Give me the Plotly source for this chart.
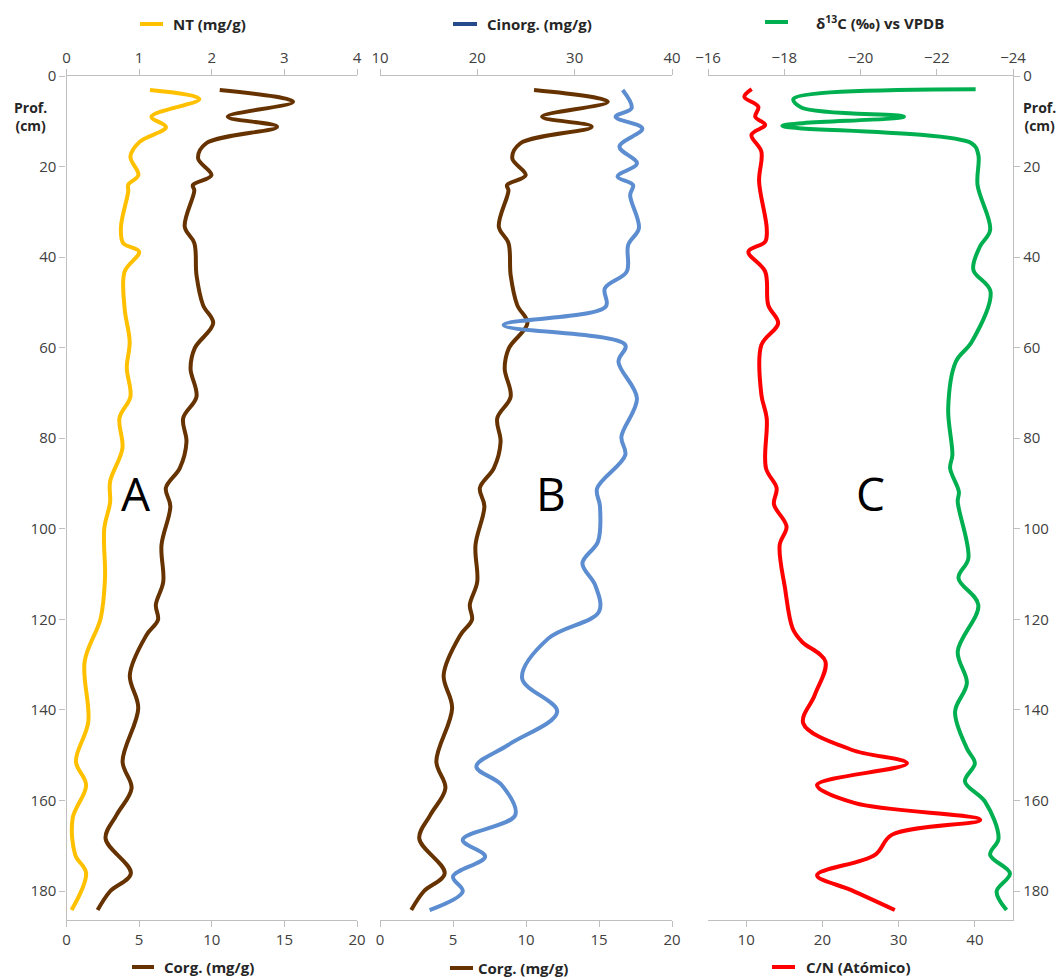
import plotly.graph_objects as go

# ---------------- data ----------------
depth_nt = [3.1, 5.1, 9.0, 11.3, 14.5, 17.8, 21.9, 24.0, 25.5, 33.3, 36.9, 38.8, 43.2, 51.3, 58.7,
            64.5, 70.8, 75.5, 82.2, 89.6, 94.2, 99.9, 111.0, 119.8, 129.3, 142.6, 151.4, 156.6,
            163.9, 172.0, 176.0, 184.2]
nt = [1.15, 1.83, 1.17, 1.37, 1.01, 0.88, 0.99, 0.85, 0.85, 0.75, 0.78, 1.00, 0.80, 0.80, 0.87,
      0.83, 0.88, 0.73, 0.77, 0.60, 0.60, 0.52, 0.53, 0.47, 0.25, 0.30, 0.13, 0.27,
      0.085, 0.12, 0.27, 0.07]

depth_corg = [3.1, 5.7, 9.0, 11.2, 14.9, 18.2, 21.9, 24.1, 25.3, 33.3, 36.9, 44.0, 50.6, 54.6,
              60.1, 64.6, 70.8, 75.6, 80.8, 86.6, 91.0, 95.0, 103.6, 111.7, 116.8, 120.1, 123.5,
              132.3, 139.6, 151.4, 157.3, 163.2, 168.4, 176.1, 180.1, 184.2]
corg = [10.55, 15.6, 11.1, 14.5, 9.6, 9.06, 9.98, 8.7, 8.8, 8.14, 8.8, 8.95, 9.4, 10.1,
        8.83, 8.54, 8.95, 8.03, 8.26, 7.8, 6.84, 7.15, 6.54, 6.66, 6.15, 6.3, 5.5,
        4.36, 4.94, 3.86, 4.48, 3.45, 2.69, 4.43, 2.99, 2.14]

depth_cinorg = [3.1, 7.1, 9.0, 11.6, 15.6, 19.3, 22.2, 24.1, 26.3, 33.6, 37.3, 43.2, 46.9, 50.9,
                55.0, 59.4, 63.1, 71.2, 79.7, 83.7, 91.1, 95.0, 102.8, 107.6, 112.4, 118.3,
                124.2, 133.0, 140.4, 147.7, 152.5, 156.6, 163.2, 168.7, 172.4, 176.8, 180.1, 184.2]
cinorg = [34.93, 35.85, 34.2, 36.95, 34.6, 36.4, 34.4, 36.0, 35.7, 36.6, 35.5, 35.35, 33.1, 33.2,
          22.7, 35.2, 34.5, 36.4, 34.8, 35.2, 32.3, 32.6, 32.4, 30.8, 32.1, 32.5,
          27.3, 24.6, 28.2, 23.2, 19.9, 22.5, 23.9, 18.5, 20.8, 17.5, 18.5, 15.1]

depth_cn = [2.9, 4.6, 6.8, 9.0, 10.8, 13.0, 16.7, 23.3, 33.6, 36.6, 38.8, 43.2, 50.6, 54.6, 59.4,
            70.4, 75.6, 86.6, 91.0, 94.6, 99.5, 103.6, 113.1, 122.0, 124.9, 129.3, 136.7, 143.0,
            148.8, 151.8, 156.6, 160.6, 164.3, 167.6, 172.0, 176.5, 179.8, 184.2]
cn = [10.73, 9.77, 11.6, 11.2, 12.5, 10.7, 12.0, 11.7, 12.7, 12.5, 10.3, 12.5, 12.9, 14.2, 12.0,
      12.0, 12.7, 12.6, 14.0, 13.65, 15.3, 14.4, 15.1, 16.1, 17.3, 20.4, 19.0, 17.5,
      23.8, 31.1, 19.3, 24.3, 40.7, 29.1, 26.9, 19.3, 23.8, 29.5]

depth_d13c = [2.9, 5.1, 7.0, 9.0, 11.0, 14.9, 17.4, 24.1, 34.0, 37.7, 42.8, 47.6, 58.7, 63.1,
              73.4, 83.7, 86.6, 91.8, 94.0, 106.5, 110.9, 116.8, 127.1, 134.1, 140.4, 148.5,
              151.8, 155.8, 160.3, 168.4, 172.0, 176.1, 180.1, 184.2]
d13c = [-23.02, -18.24, -18.46, -21.14, -17.95, -22.92, -23.09, -23.07, -23.4, -23.13, -22.96,
        -23.41, -22.92, -22.5, -22.3, -22.41, -22.35, -22.58, -22.55, -22.83, -22.57, -23.09,
        -22.55, -22.79, -22.48, -22.79, -23.0, -22.74, -23.27, -23.62, -23.4, -23.92, -23.57,
        -23.83]

panel_letters = ["A", "B", "C"]

# ---------------- styling ----------------
W, H = 1062, 978
YELLOW = "#FFC000"
BROWN = "#663300"
BLUE = "#5B8DD0"
BLUE_KEY = "#264B8C"
RED = "#FF0000"
GREEN = "#00B050"
AX = "#BFBFBF"
TXT = "#404040"
FONT = "Open Sans"
LW = 4


def fx(p):
    return p / W


def fy(p):
    return 1 - p / H


fig = go.Figure()


def line(xv, yv, color, xa, ya):
    fig.add_trace(go.Scatter(x=xv, y=yv, mode="lines", xaxis=xa, yaxis=ya,
                             line=dict(color=color, width=LW, shape="spline", smoothing=1.0),
                             showlegend=False, hoverinfo="skip"))


line(nt, depth_nt, YELLOW, "x2", "y")
line(corg, depth_corg, BROWN, "x", "y")
line(corg, depth_corg, BROWN, "x3", "y2")
line(cinorg, depth_cinorg, BLUE, "x4", "y2")
line(d13c, depth_d13c, GREEN, "x6", "y3")
line(cn, depth_cn, RED, "x5", "y3")

y_dom = [fy(920), fy(76)]
y_rng = [186.4, 0]
domA = [fx(66.5), fx(357)]
domB = [fx(380), fx(672)]
domC = [fx(708), fx(1013)]

common_x = dict(showgrid=False, zeroline=False, showline=True, linecolor=AX, linewidth=1.3,
                ticks="outside", tickcolor=AX, ticklen=6, tickwidth=1.3, automargin=False,
                tickfont=dict(family=FONT, size=15, color=TXT))
common_y = dict(showgrid=False, zeroline=False, range=y_rng, domain=y_dom, automargin=False)

fig.update_layout(
    width=W, height=H, margin=dict(l=0, r=0, t=0, b=0, pad=0, autoexpand=False),
    paper_bgcolor="white", plot_bgcolor="white",
    xaxis=dict(domain=domA, range=[0, 20], dtick=5, anchor="y", side="bottom", **common_x),
    xaxis2=dict(range=[0, 4], dtick=1, anchor="y", overlaying="x", side="top", **common_x),
    xaxis3=dict(domain=domB, range=[0, 20], dtick=5, anchor="y2", side="bottom", **common_x),
    xaxis4=dict(range=[10, 40], dtick=10, anchor="y2", overlaying="x3", side="top", **common_x),
    xaxis5=dict(domain=domC, range=[5, 45], dtick=10, anchor="y3", side="bottom", **common_x),
    xaxis6=dict(range=[-16, -24], dtick=2, anchor="y3", overlaying="x5", side="top", **common_x),
    yaxis=dict(anchor="x", side="left", dtick=20, showline=True, linecolor=AX, linewidth=1.3,
               ticks="outside", tickcolor=AX, ticklen=6, tickwidth=1.3,
               tickfont=dict(family=FONT, size=15, color=TXT), **common_y),
    yaxis2=dict(anchor="x3", showline=False, showticklabels=False, ticks="", **common_y),
    yaxis3=dict(anchor="x5", side="right", dtick=20, showline=True, linecolor=AX, linewidth=1.3,
                ticks="outside", tickcolor=AX, ticklen=6, tickwidth=1.3,
                tickfont=dict(family=FONT, size=15, color=TXT), **common_y),
)

# axis "legend" keys: (line x0, line x1, y, colour, text, text x)
keys = [
    (140, 163, 24, YELLOW, "NT (mg/g)", 171),
    (453, 477, 24, BLUE_KEY, "Cinorg. (mg/g)", 485),
    (765, 788, 22, GREEN, "δ<sup>13</sup>C (‰) vs VPDB", 814),
    (132, 154, 967, BROWN, "Corg. (mg/g)", 162),
    (450, 473, 968, BROWN, "Corg. (mg/g)", 476),
    (772, 795, 967, RED, "C/N (Atómico)", 804),
]
shapes = []
annotations = []
for x0, x1, yy, col, txt, tx in keys:
    shapes.append(dict(type="line", xref="paper", yref="paper", x0=fx(x0), x1=fx(x1),
                       y0=fy(yy), y1=fy(yy), line=dict(color=col, width=LW)))
    annotations.append(dict(xref="paper", yref="paper", x=fx(tx), y=fy(yy), xanchor="left",
                            yanchor="middle", showarrow=False, text="<b>" + txt + "</b>",
                            font=dict(family=FONT, size=15, color="#262626")))

for xx in (30, 1039):
    annotations.append(dict(xref="paper", yref="paper", x=fx(xx), y=fy(117), xanchor="center",
                            yanchor="middle", showarrow=False, text="<b>Prof.<br>(cm)</b>",
                            font=dict(family=FONT, size=14, color="#262626")))

for letter, xx in zip(panel_letters, (136, 551, 870)):
    annotations.append(dict(xref="paper", yref="paper", x=fx(xx), y=fy(493), xanchor="center",
                            yanchor="middle", showarrow=False, text=letter,
                            font=dict(family=FONT, size=46, color="black")))

fig.update_layout(shapes=shapes, annotations=annotations)
fig.write_html("out.html", config={"displayModeBar": False},
               post_script="document.body.style.margin='0';document.body.style.overflow='hidden';")
